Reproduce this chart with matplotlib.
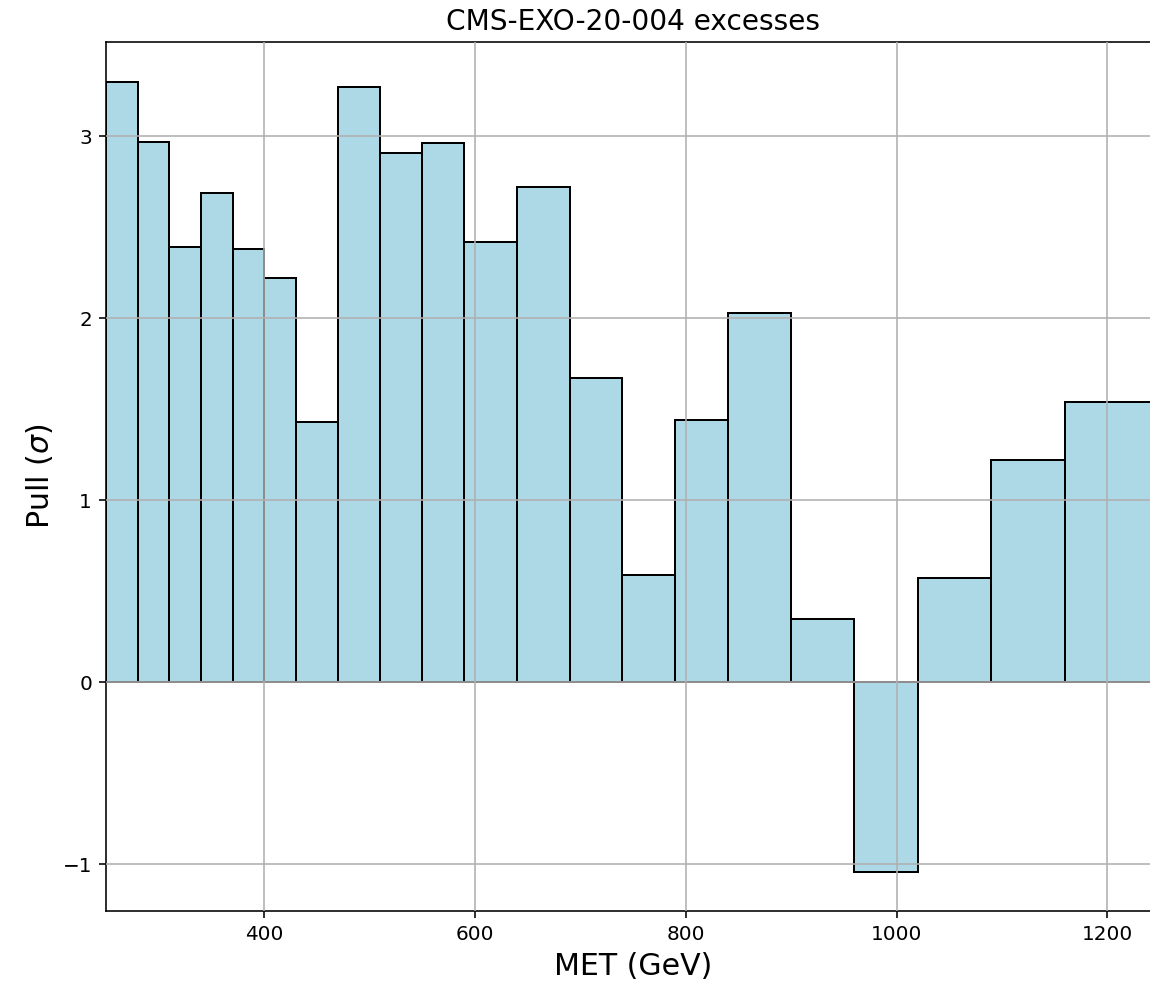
import numpy as np
import matplotlib.pyplot as plt

# MET bin edges (GeV) and pull per bin
edges = [250, 280, 310, 340, 370, 400, 430, 470, 510, 550, 590, 640, 690,
         740, 790, 840, 900, 960, 1020, 1090, 1160, 1250]
pulls = [3.30, 2.97, 2.39, 2.69, 2.38, 2.22, 1.43, 3.27, 2.91, 2.96, 2.42,
         2.72, 1.67, 0.59, 1.44, 2.03, 0.35, -1.04, 0.57, 1.22, 1.54]

edges = np.array(edges)
lefts = edges[:-1]
widths = np.diff(edges)

fig = plt.figure(figsize=(1150 / 144, 985 / 144), dpi=144)
ax = fig.add_axes([0.0922, 0.0751, 0.9165, 0.8822])

ax.bar(lefts, pulls, width=widths, align='edge',
       color='lightblue', edgecolor='black')
ax.set_axisbelow(False)
ax.grid(True)

ax.set_xlim(250, 1250)
ax.set_title('CMS-EXO-20-004 excesses', fontsize=14)
ax.set_xlabel('MET (GeV)', fontsize=15)
ax.set_ylabel(r'Pull ($\sigma$)', fontsize=15)

fig.savefig('out.png', dpi=144)
